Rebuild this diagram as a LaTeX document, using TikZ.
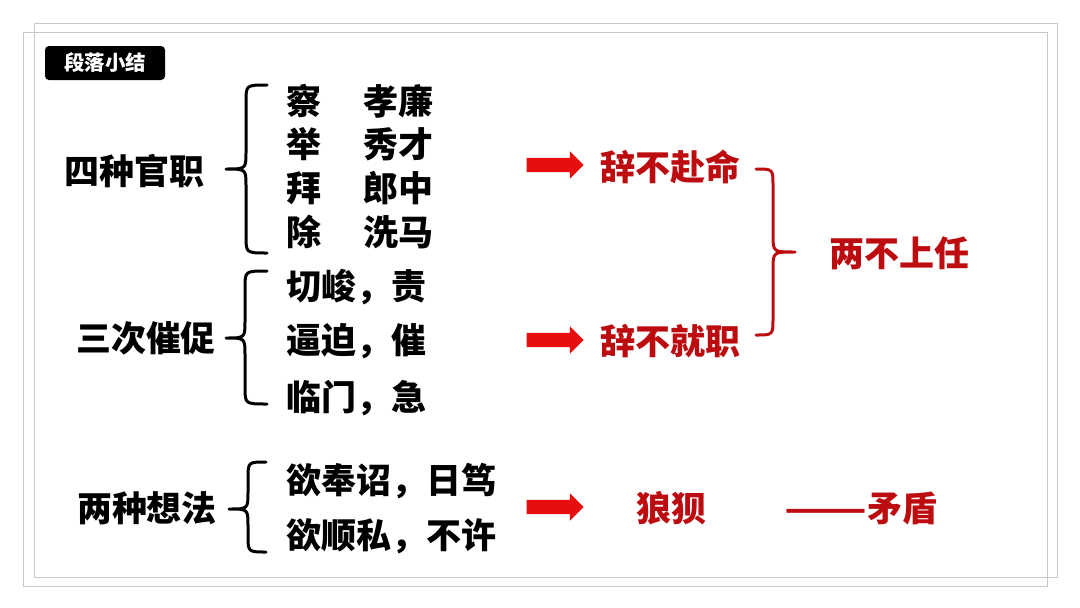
\documentclass[tikz,border=0pt]{standalone}
\usepackage{graphicx}
\usepackage{fontspec}
\setmainfont{Noto Sans CJK SC}
\usetikzlibrary{shapes.arrows}
\definecolor{arrowred}{RGB}{232,14,14}
\definecolor{textred}{RGB}{188,12,16}
\definecolor{framegray}{RGB}{200,200,200}
\newcommand\bracepath[6]{(#1,#4) .. controls (#2,#4) .. (#2,#4+17) -- (#2,#5-17) .. controls (#2,#5) .. (#3,#5) .. controls (#2,#5) .. (#2,#5+17) -- (#2,#6-17) .. controls (#2,#6) .. (#1,#6)}
\begin{document}
\begin{tikzpicture}[x=1pt,y=-1pt,
  big/.style={font=\fontsize{35}{40}\selectfont\bfseries, inner sep=0pt},
  item/.style={big, anchor=west},
  redtext/.style={big, text=textred},
  bracestyle/.style={line width=3pt, line cap=round, line join=round},
  blockarrow/.style={single arrow, fill=arrowred, draw=none, minimum height=57pt,
    inner xsep=0pt, inner ysep=7pt, single arrow head extend=6.5pt, shape border rotate=0},
  frame/.style={draw=framegray, line width=1pt}]
\useasboundingbox (0,0) rectangle (1080,608);
\fill[white] (0,0) rectangle (1080,608);
% frames
\draw[frame] (34,23) rectangle (1057,577);
\draw[frame] (23,32) rectangle (1047,586);
% tag
\node[fill=black, rounded corners=4pt, minimum width=120pt, minimum height=34pt, inner sep=0pt,
  text=white, font=\fontsize{20.5}{24}\selectfont\bfseries] (tag) at (105,63) {段落小结};
% group labels
\node[big] (g1) at (134,171) {四种官职};
\node[big] (g2) at (146,338) {三次催促};
\node[big] (g3) at (147,508) {两种想法};
% braces
\draw[bracestyle] \bracepath{267}{246}{226}{85}{169}{253};
\draw[bracestyle] \bracepath{267}{245}{226}{271}{338}{404};
\draw[bracestyle] \bracepath{266}{248}{229}{462}{509}{552};
% items
\node[item] (a1) at (286,101) {察\hspace{1.2em}孝廉};
\node[item] (a2) at (286,144) {举\hspace{1.2em}秀才};
\node[item] (a3) at (286,188) {拜\hspace{1.2em}郎中};
\node[item] (a4) at (286,232) {除\hspace{1.2em}洗马};
\node[item] (b1) at (286,287) {切峻，责};
\node[item] (b2) at (286,341) {逼迫，催};
\node[item] (b3) at (286,398) {临门，急};
\node[item] (c1) at (286,481) {欲奉诏，日笃};
\node[item] (c2) at (286,536) {欲顺私，不许};
% arrows
\node[blockarrow] (r1) at (551.5,165) {};
\node[blockarrow] (r2) at (551.5,340) {};
\node[blockarrow] (r3) at (551.5,507) {};
% red results
\node[redtext] (d1) at (670,167) {辞不赴命};
\node[redtext] (d2) at (670,341) {辞不就职};
\node[redtext] (d3) at (671,508) {狼狈};
\node[redtext, anchor=east] (d4) at (938,508) {\scalebox{1.38}[1]{——}矛盾};
\draw[bracestyle, draw=textred] \bracepath{756}{773}{795}{169}{252}{335};
\node[redtext] (e1) at (899,253) {两不上任};
\end{tikzpicture}
\end{document}
